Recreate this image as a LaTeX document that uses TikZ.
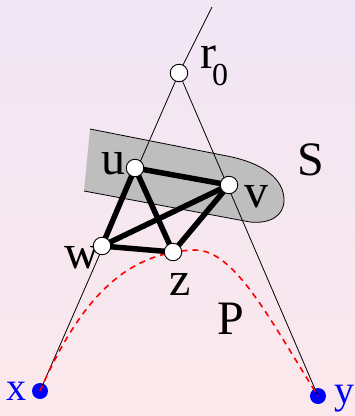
\documentclass[tikz,border=0pt]{standalone}
\usepackage{fontspec}
\setmainfont{Liberation Serif}
\pgfdeclarelayer{bg}
\pgfdeclarelayer{front}
\pgfsetlayers{bg,main,front}
\definecolor{bgtop}{RGB}{240,230,244}
\definecolor{bgbot}{RGB}{251,232,236}
\definecolor{sgray}{RGB}{190,190,190}
\begin{document}
\begin{tikzpicture}[x=1pt,y=-1pt,
  vtx/.style={circle,draw=black,line width=0.9pt,fill=white,inner sep=0pt,minimum size=17.5pt},
  term/.style={circle,fill=blue,inner sep=0pt,minimum size=16pt},
  thin/.style={line width=0.8pt,black},
  thick/.style={line width=5.5pt,black},
  lbl/.style={anchor=base west,inner sep=0pt,font=\fontsize{48}{48}\selectfont},
  blbl/.style={anchor=base west,inner sep=0pt,text=blue,font=\fontsize{40}{40}\selectfont},
  path/.style={red,line width=1.6pt,dash pattern=on 6pt off 5pt}]
\useasboundingbox (0,0) rectangle (355,416);
\begin{pgfonlayer}{bg}
  \shade[top color=bgtop,bottom color=bgbot] (0,0) rectangle (355,416);
  \fill[sgray] (90,129) -- (225,155.6) .. controls (265,163) and (284,180) .. (284,200)
     .. controls (284,216) and (270,224) .. (250,222) -- (84,191) -- cycle;
  \draw[line width=0.8pt] (90,129) -- (225,155.6) .. controls (265,163) and (284,180) .. (284,200)
     .. controls (284,216) and (270,224) .. (250,222) -- (84,191);
\end{pgfonlayer}
\begin{pgfonlayer}{front}
  \node[vtx] (r0) at (179,73) {};
  \node[vtx] (u) at (135,168) {};
  \node[vtx] (v) at (229,185) {};
  \node[vtx] (w) at (102,246) {};
  \node[vtx] (z) at (173,252) {};
\end{pgfonlayer}
\node[term] (x) at (40,391) {};
\node[term] (y) at (318,396) {};
\coordinate (top) at (212,7);
% thin lines
\draw[thin] (r0.center) -- (top);
\draw[thin] (r0.center) -- (x.center);
\draw[thin] (r0.center) -- (y.center);
% thick edges
\draw[thick] (u.center) -- (v.center);
\draw[thick] (u.center) -- (w.center);
\draw[thick] (u.center) -- (z.center);
\draw[thick] (w.center) -- (v.center);
\draw[thick] (w.center) -- (z.center);
\draw[thick] (z.center) -- (v.center);
% red path
\draw[path] (x.center) .. controls (80,300) and (125,252) .. (195,250)
  .. controls (235,250) and (270,320) .. (y.center);
% labels
\node[lbl] (lr) at (200,68) {r};
\node[anchor=base west,inner sep=0pt,font=\fontsize{32}{32}\selectfont] (l0) at (212,85) {0};
\node[lbl] (lu) at (101,174) {u};
\node[lbl] (lv) at (244,207) {v};
\node[lbl] (lw) at (64,268) {w};
\node[lbl] (lz) at (169,295) {z};
\node[lbl] (lP) at (217,334) {P};
\node[lbl] (lS) at (297,175) {S};
\node[blbl] (lx) at (6,400) {x};
\node[blbl] (ly) at (334,403) {y};
\end{tikzpicture}
\end{document}
